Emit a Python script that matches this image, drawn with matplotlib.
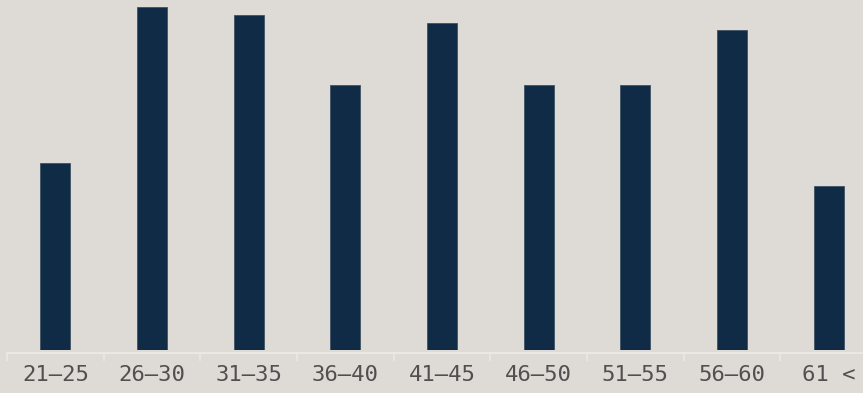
import matplotlib.pyplot as plt

# Age groups and counts
categories = ["21–25", "26–30", "31–35", "36–40", "41–45", "46–50", "51–55", "56–60", "61 <"]
counts = [24, 44, 43, 34, 42, 34, 34, 41, 21]

bg = "#dedad5"
bar_color = "#0f2b45"

W, H = 863, 393
fig = plt.figure(figsize=(W / 100, H / 100), dpi=100)
fig.patch.set_facecolor(bg)

# axes run past the right edge, like the reference
left, right = 7, 877
bottom, top = 350, 0
ax = fig.add_axes([left / W, (H - bottom) / H, (right - left) / W, (bottom - top) / H])
ax.set_facecolor(bg)

x = list(range(len(categories)))
ax.bar(x, counts, width=0.31, color=bar_color, edgecolor="#3d5366", linewidth=0.6)

ax.set_xlim(-0.5, len(categories) - 0.5)
ax.set_ylim(0, 44 * 350 / 343)

for s in ["top", "right", "left"]:
    ax.spines[s].set_visible(False)
ax.spines["bottom"].set_color("#ebe8e4")
ax.spines["bottom"].set_linewidth(1.5)
ax.spines["bottom"].set_position(("outward", 2))
ax.set_yticks([])

# tick marks on the band edges, labels at the band centres
ax.set_xticks([i - 0.5 for i in range(len(categories) + 1)], minor=False)
ax.set_xticklabels([])
ax.tick_params(axis="x", which="major", length=6, width=1.2, color="#ebe8e4")
ax.set_xticks(x, minor=True)
labels = ax.set_xticklabels(categories, minor=True, family="DejaVu Sans Mono", fontsize=16, color="#505050")
labels[-1].set_position((8.04, 0))
ax.tick_params(axis="x", which="minor", length=0, pad=9)

fig.savefig("out.png", dpi=100, facecolor=bg)
